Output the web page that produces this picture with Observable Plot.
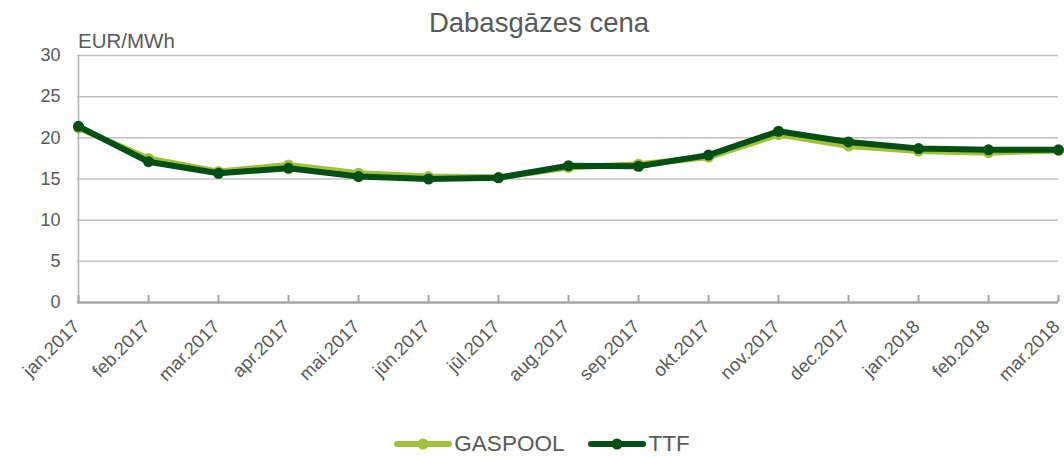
<!DOCTYPE html>
<html>
<head>
<meta charset="utf-8">
<script src="https://cdn.jsdelivr.net/npm/d3@7"></script>
<script src="https://cdn.jsdelivr.net/npm/@observablehq/plot@0.6"></script>
<style>
  html, body { margin: 0; padding: 0; background: #fff; }
  body { font-family: "Liberation Sans", Arial, sans-serif; }
  #wrap { position: relative; width: 1064px; height: 457px; overflow: hidden; }
  #title { position: absolute; left: 0; width: 1078px; top: 7px; text-align: center; font-size: 27.5px; color: #595959; }
  #unit { position: absolute; left: 78px; top: 29px; font-size: 20.5px; color: #595959; }
  #legend { position: absolute; left: 0; width: 1064px; top: 431px; display: flex; justify-content: center; align-items: center; font-size: 22.5px; color: #595959; padding-left: 20px; box-sizing: border-box; }
  .item { display: flex; align-items: center; margin: 0 12px; }
  .item svg { margin-right: 2px; }
  #chart { position: absolute; left: 0; top: 0; }
</style>
</head>
<body>
<div id="wrap">
  <div id="chart"></div>
  <div id="title">Dabasgāzes cena</div>
  <div id="unit">EUR/MWh</div>
  <div id="legend"></div>
</div>
<script>
const months = ["jan.2017","feb.2017","mar.2017","apr.2017","mai.2017","jūn.2017","jūl.2017","aug.2017","sep.2017","okt.2017","nov.2017","dec.2017","jan.2018","feb.2018","mar.2018"];
const gaspool = [21.2, 17.5, 15.9, 16.7, 15.7, 15.3, 15.2, 16.4, 16.8, 17.65, 20.4, 19.0, 18.4, 18.2, 18.45];
const ttf = [21.4, 17.1, 15.7, 16.3, 15.3, 15.0, 15.15, 16.6, 16.55, 17.9, 20.8, 19.5, 18.7, 18.55, 18.55];
const yTicks = [0, 5, 10, 15, 20, 25, 30];
const seriesNames = ["GASPOOL", "TTF"];
const colors = ["#a2c13a", "#004f14"];

const rows = [];
seriesNames.forEach((s, si) => {
  const vals = si === 0 ? gaspool : ttf;
  months.forEach((m, i) => rows.push({series: s, month: m, value: vals[i]}));
});
const gRows = rows.filter(d => d.series === "GASPOOL");
const tRows = rows.filter(d => d.series === "TTF");

const font = "Liberation Sans, Arial, sans-serif";

const chart = Plot.plot({
  width: 1064,
  height: 457,
  marginLeft: 77,
  marginRight: 6,
  marginTop: 55,
  marginBottom: 155,
  style: {fontFamily: font, background: "transparent"},
  x: {type: "point", domain: months, padding: 0, axis: null},
  y: {domain: [0, 30], axis: null},
  marks: [
    Plot.ruleY(yTicks.filter(d => d > 0), {stroke: "#c0c0c0", strokeWidth: 1.5}),
    Plot.ruleX([months[0]], {y1: 0, y2: 30, stroke: "#b0b0b0", strokeWidth: 1.5}),
    Plot.ruleX(months, {x: d => d, y1: 0, y2: 0, insetBottom: 7, stroke: "#a6a6a6", strokeWidth: 2}),
    Plot.ruleY([0], {stroke: "#a6a6a6", strokeWidth: 2.5}),
    Plot.line(gRows, {x: "month", y: "value", stroke: colors[0], strokeWidth: 6, strokeLinejoin: "round"}),
    Plot.dot(gRows, {x: "month", y: "value", r: 5.5, fill: colors[0], stroke: "none"}),
    Plot.line(tRows, {x: "month", y: "value", stroke: colors[1], strokeWidth: 6, strokeLinejoin: "round"}),
    Plot.dot(tRows, {x: "month", y: "value", r: 5.5, fill: colors[1], stroke: "none"}),
    Plot.text(yTicks, {y: d => d, text: d => String(d), frameAnchor: "left", textAnchor: "end", dx: -17, fontSize: 18, fill: "#595959"}),
    Plot.text(months, {x: d => d, text: d => d, frameAnchor: "bottom", rotate: -45, textAnchor: "end", lineAnchor: "middle", dx: -2, dy: 21, fontSize: 18.5, fill: "#595959"})
  ]
});
document.getElementById("chart").appendChild(chart);

const legend = document.getElementById("legend");
seriesNames.forEach((s, i) => {
  const item = document.createElement("div");
  item.className = "item";
  item.innerHTML = `<svg width="58" height="14"><line x1="3" y1="7" x2="55" y2="7" stroke="${colors[i]}" stroke-width="6" stroke-linecap="round"/><circle cx="29" cy="7" r="5.5" fill="${colors[i]}"/></svg><span>${s}</span>`;
  legend.appendChild(item);
});
</script>
</body>
</html>
